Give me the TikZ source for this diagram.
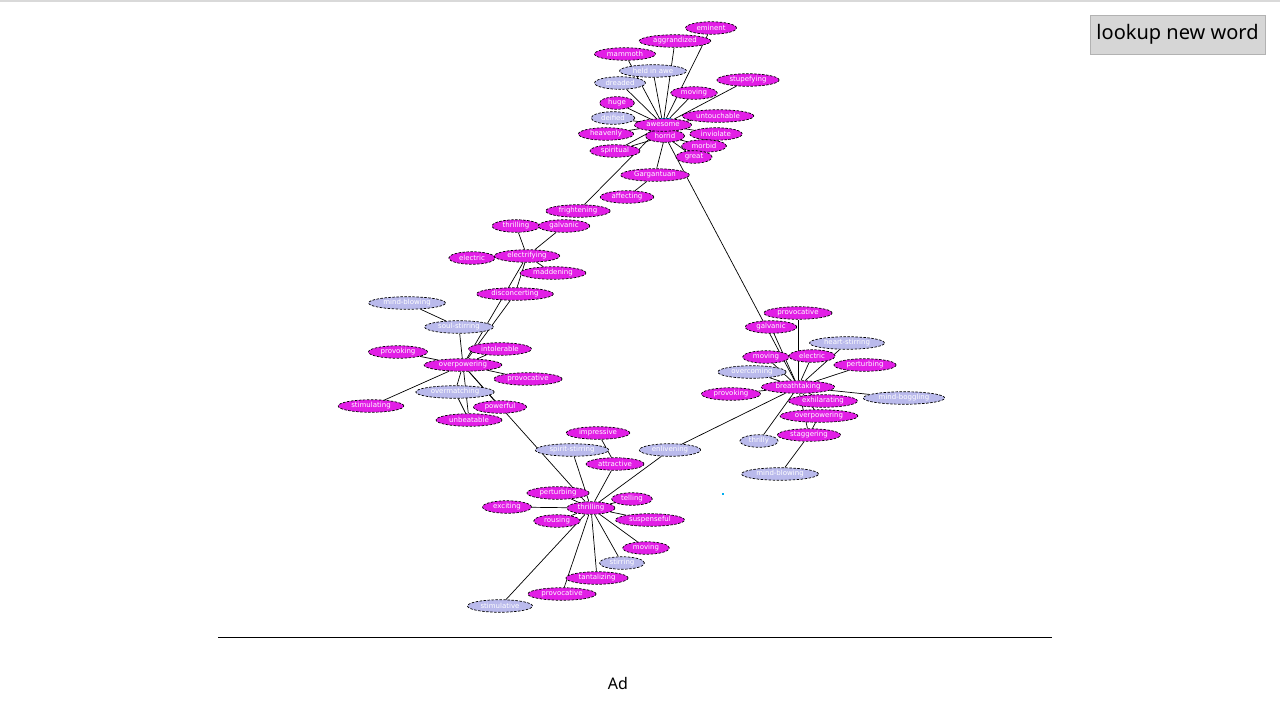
\documentclass[tikz,border=0pt]{standalone}
\usepackage{fontspec}
\newfontfamily\wordfont{DejaVu Sans}
\newfontfamily\uifont{Noto Sans}
\usetikzlibrary{shapes.geometric}
\pgfdeclarelayer{bg}
\pgfsetlayers{bg,main}
\definecolor{wordpink}{RGB}{226,30,230}
\definecolor{wordlilac}{RGB}{186,186,236}
\definecolor{btngray}{RGB}{214,214,214}
\tikzset{
	word/.style={ellipse, draw=black, dash pattern=on 2.5pt off 1.5pt, line width=0.7pt, text=white,
		font={\wordfont\fontsize{7}{8}\selectfont}, inner xsep=3.5pt, inner ysep=0pt, minimum height=12.5pt},
	mword/.style={word, fill=wordpink},
	lword/.style={word, fill=wordlilac},
	link/.style={draw=black, line width=0.7pt}
}

\begin{document}
\begin{tikzpicture}[x=1pt, y=-1pt]
			%%%%% START %%%%%
			\useasboundingbox (0,0) rectangle (1280,727);
			
			% top cluster
			\node[mword] (emi) at (711,28) {eminent};
			\node[mword] (agg) at (675,41) {aggrandized};
			\node[mword] (mam) at (625,54) {mammoth};
			\node[lword] (hia) at (653,71) {held in awe};
			\node[lword] (dre) at (620,83) {dreaded};
			\node[mword] (stu) at (748,80) {stupefying};
			\node[mword] (mov1) at (694,93) {moving};
			\node[mword] (hug) at (617,103) {huge};
			\node[mword] (unt) at (718,116) {untouchable};
			\node[lword] (dei) at (613,118) {deified};
			\node[mword] (hea) at (606,134) {heavenly};
			\node[mword] (inv) at (716,134) {inviolate};
			\node[mword] (spi) at (615,151) {spiritual};
			\node[mword] (mor) at (704,146) {morbid};
			\node[mword] (gre) at (694,157) {great};
			\node[mword] (hor) at (665,136) {horrid};
			\node[mword] (aws) at (663,125) {awesome};
			\node[mword] (gar) at (655,175) {Gargantuan};
			\node[mword] (aff) at (627,197) {affecting};
			
			% middle
			\node[mword] (fri) at (578,211) {frightening};
			\node[mword] (thr1) at (516,226) {thrilling};
			\node[mword] (gal1) at (564,226) {galvanic};
			\node[mword] (ele1) at (472,258) {electric};
			\node[mword] (elf) at (527,256) {electrifying};
			\node[mword] (mad) at (553,273) {maddening};
			\node[mword] (dis) at (515,294) {disconcerting};
			
			% left cluster
			\node[lword] (mib1) at (407,303) {mind-blowing};
			\node[lword] (sou) at (459,327) {soul-stirring};
			\node[mword] (int) at (500,349) {intolerable};
			\node[mword] (pro1) at (398,352) {provoking};
			\node[mword] (ovp1) at (463,365) {overpowering};
			\node[mword] (pvc1) at (528,379) {provocative};
			\node[lword] (ovm) at (455,392) {overmatching};
			\node[mword] (sti) at (371,406) {stimulating};
			\node[mword] (pow) at (500,407) {powerful};
			\node[mword] (unb) at (469,420) {unbeatable};
			
			% right cluster
			\node[mword] (pvc2) at (798,313) {provocative};
			\node[mword] (gal2) at (771,327) {galvanic};
			\node[lword] (hrt) at (847,343) {heart-stirring};
			\node[mword] (mov2) at (766,357) {moving};
			\node[mword] (ele2) at (812,356) {electric};
			\node[mword] (per2) at (865,365) {perturbing};
			\node[lword] (ovc) at (752,372) {overcoming};
			\node[mword] (bre) at (798,387) {breathtaking};
			\node[mword] (pro2) at (731,394) {provoking};
			\node[lword] (mbg) at (904,398) {mind-boggling};
			\node[mword] (exh) at (823,401) {exhilarating};
			\node[mword] (ovp2) at (819,416) {overpowering};
			\node[mword] (sta) at (809,435) {staggering};
			\node[lword] (thy) at (759,441) {thrilly};
			\node[lword] (mib2) at (780,474) {mind-blowing};
			
			% bottom cluster
			\node[mword] (imp) at (598,433) {impressive};
			\node[lword] (sps) at (572,450) {spirit-stirring};
			\node[lword] (enl) at (670,450) {enlivening};
			\node[mword] (att) at (615,464) {attractive};
			\node[mword] (per3) at (558,493) {perturbing};
			\node[mword] (tel) at (632,499) {telling};
			\node[mword] (exc) at (507,507) {exciting};
			\node[mword] (thr2) at (591,508) {thrilling};
			\node[mword] (rou) at (557,521) {rousing};
			\node[mword] (sus) at (650,520) {suspenseful};
			\node[mword] (mov3) at (646,548) {moving};
			\node[lword] (str) at (622,563) {stirring};
			\node[mword] (tan) at (597,578) {tantalizing};
			\node[mword] (pvc3) at (562,594) {provocative};
			\node[lword] (stv) at (500,606) {stimulative};
			\fill[cyan] (722,493) rectangle (724,495);
			
			% links
			\begin{pgfonlayer}{bg}
				\fill[white] (0,0) rectangle (1280,727);
				\fill[black!15] (0,0) rectangle (1280,2);
				\foreach \w in {emi,agg,mam,hia,dre,hug,mov1,stu,unt,dei,hea,hor,inv,spi,fri}
					\draw[link] (aws.center) -- (\w);
				\foreach \w in {mor,gre,gar,spi,bre}
					\draw[link] (hor.center) -- (\w);
				\fill[cyan] (659,118) rectangle (671,121);
				\draw[link] (gar) -- (aff);
				\foreach \w in {thr1,gal1,ele1,mad,dis,ovp1}
					\draw[link] (elf) -- (\w);
				\foreach \w in {sou,pro1,int,pvc1,ovm,sti,pow,unb,dis,thr2}
					\draw[link] (ovp1) -- (\w);
				\draw[link] (sou) -- (mib1);
				\draw[link] (ovm) -- (unb);
				\foreach \w in {pvc2,gal2,hrt,mov2,ele2,per2,ovc,pro2,mbg,exh,ovp2,sta,thy,enl}
					\draw[link] (bre) -- (\w);
				\draw[link] (ovp2) -- (sta);
				\draw[link] (sta) -- (mib2);
				\draw[link] (imp) -- (att);
				\foreach \w in {sps,att,enl,per3,tel,exc,rou,sus,mov3,str,tan,pvc3,stv}
					\draw[link] (thr2) -- (\w);
			\end{pgfonlayer}
			
			% page parts
			\draw[line width=1pt] (218,637) -- (1052,637);
			\node[fill=btngray, draw=black!30, minimum width=175pt, minimum height=39pt, inner sep=0pt,
				font={\uifont\fontsize{20}{23}\selectfont}] (btn) at (1177.5,34.5) {lookup new word};
			\node[font={\uifont\fontsize{16}{19}\selectfont}] (ad) at (618,683) {Ad};
			
			%%%%% END %%%%%
		\end{tikzpicture}
\end{document}
